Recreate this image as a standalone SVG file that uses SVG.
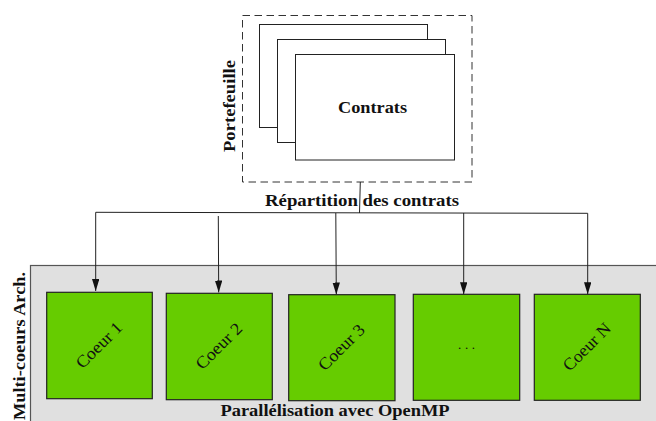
<svg xmlns="http://www.w3.org/2000/svg" width="656" height="421" viewBox="0 0 656 421">
<style>
.b{font-family:"Liberation Serif","Times New Roman",serif;font-weight:bold;font-size:16px;fill:#111}
.r{font-family:"Liberation Serif","Times New Roman",serif;font-size:17px;fill:#111}
.doc{fill:#fff;stroke:#222;stroke-width:1}
.core{fill:#66cc00;stroke:#222;stroke-width:1.2}
.ln{fill:none;stroke:#222;stroke-width:1}
</style>
<defs>
<marker id="ah" markerUnits="userSpaceOnUse" markerWidth="12" markerHeight="8" refX="12" refY="3.7" orient="auto">
<path d="M0,0 L12,3.7 L0,7.4 z" fill="#111"/>
</marker>
</defs>
<rect x="0" y="0" width="656" height="421" fill="#fff"/>
<g id="portefeuille">
<rect x="242.5" y="15.5" width="229.5" height="166.5" fill="none" stroke="#333" stroke-width="1" stroke-dasharray="7.5 4.5"/>
<text class="b" transform="translate(235,106) rotate(-90)" text-anchor="middle" textLength="92" lengthAdjust="spacingAndGlyphs">Portefeuille</text>
</g>
<g id="contrats">
<rect class="doc" x="259.5" y="24.5" width="168" height="103"/>
<rect class="doc" x="277.5" y="39.5" width="168" height="103"/>
<rect class="doc" x="295.5" y="54.5" width="159" height="105.5"/>
<text class="b" x="372.5" y="112.5" text-anchor="middle" textLength="69" lengthAdjust="spacingAndGlyphs">Contrats</text>
</g>
<g id="archi">
<rect x="30.5" y="265.5" width="630" height="160" fill="#e0e0e0" stroke="#555" stroke-width="1.2"/>
<text class="b" transform="translate(25,346) rotate(-90)" text-anchor="middle" textLength="148" lengthAdjust="spacingAndGlyphs">Multi-coeurs Arch.</text>
<text class="b" x="335" y="415.5" text-anchor="middle" textLength="229" lengthAdjust="spacingAndGlyphs">Parallélisation avec OpenMP</text>
</g>
<g id="coeur1">
<rect class="core" x="46.7" y="292.3" width="105.6" height="106.4"/>
<text class="r" transform="translate(99.5,345.5) rotate(-45)" text-anchor="middle" dy="5" textLength="58" lengthAdjust="spacingAndGlyphs">Coeur 1</text>
</g>
<g id="coeur2">
<rect class="core" x="166.3" y="293.3" width="106" height="106.4"/>
<text class="r" transform="translate(219.3,346.5) rotate(-45)" text-anchor="middle" dy="5" textLength="58" lengthAdjust="spacingAndGlyphs">Coeur 2</text>
</g>
<g id="coeur3">
<rect class="core" x="288.7" y="294.7" width="106.3" height="106"/>
<text class="r" transform="translate(341.8,347.7) rotate(-45)" text-anchor="middle" dy="5" textLength="58" lengthAdjust="spacingAndGlyphs">Coeur 3</text>
</g>
<g id="coeur4">
<rect class="core" x="413.3" y="294.3" width="106.4" height="106"/>
<text class="r" x="466.5" y="349" text-anchor="middle" textLength="17" lengthAdjust="spacing" style="font-size:13px">...</text>
</g>
<g id="coeurN">
<rect class="core" x="534.3" y="294.3" width="106" height="106"/>
<text class="r" transform="translate(587.3,347.3) rotate(-45)" text-anchor="middle" dy="5" textLength="60" lengthAdjust="spacingAndGlyphs">Coeur N</text>
</g>
<g id="connectors">
<polyline class="ln" points="95.7,212.3 587.7,213.3"/>
<line class="ln" x1="95.7" y1="212.3" x2="95.7" y2="291" marker-end="url(#ah)"/>
<line class="ln" x1="218.3" y1="216" x2="218.7" y2="292.5" marker-end="url(#ah)"/>
<line class="ln" x1="335.8" y1="213" x2="336.3" y2="294.5" marker-end="url(#ah)"/>
<line class="ln" x1="463.7" y1="213" x2="463.7" y2="294.3" marker-end="url(#ah)"/>
<line class="ln" x1="587.7" y1="213.3" x2="587.7" y2="294.3" marker-end="url(#ah)"/>
<line class="ln" x1="360.3" y1="182" x2="359.5" y2="213"/>
<text class="b" x="362" y="205.5" text-anchor="middle" textLength="194" lengthAdjust="spacingAndGlyphs">Répartition des contrats</text>
</g>
</svg>
